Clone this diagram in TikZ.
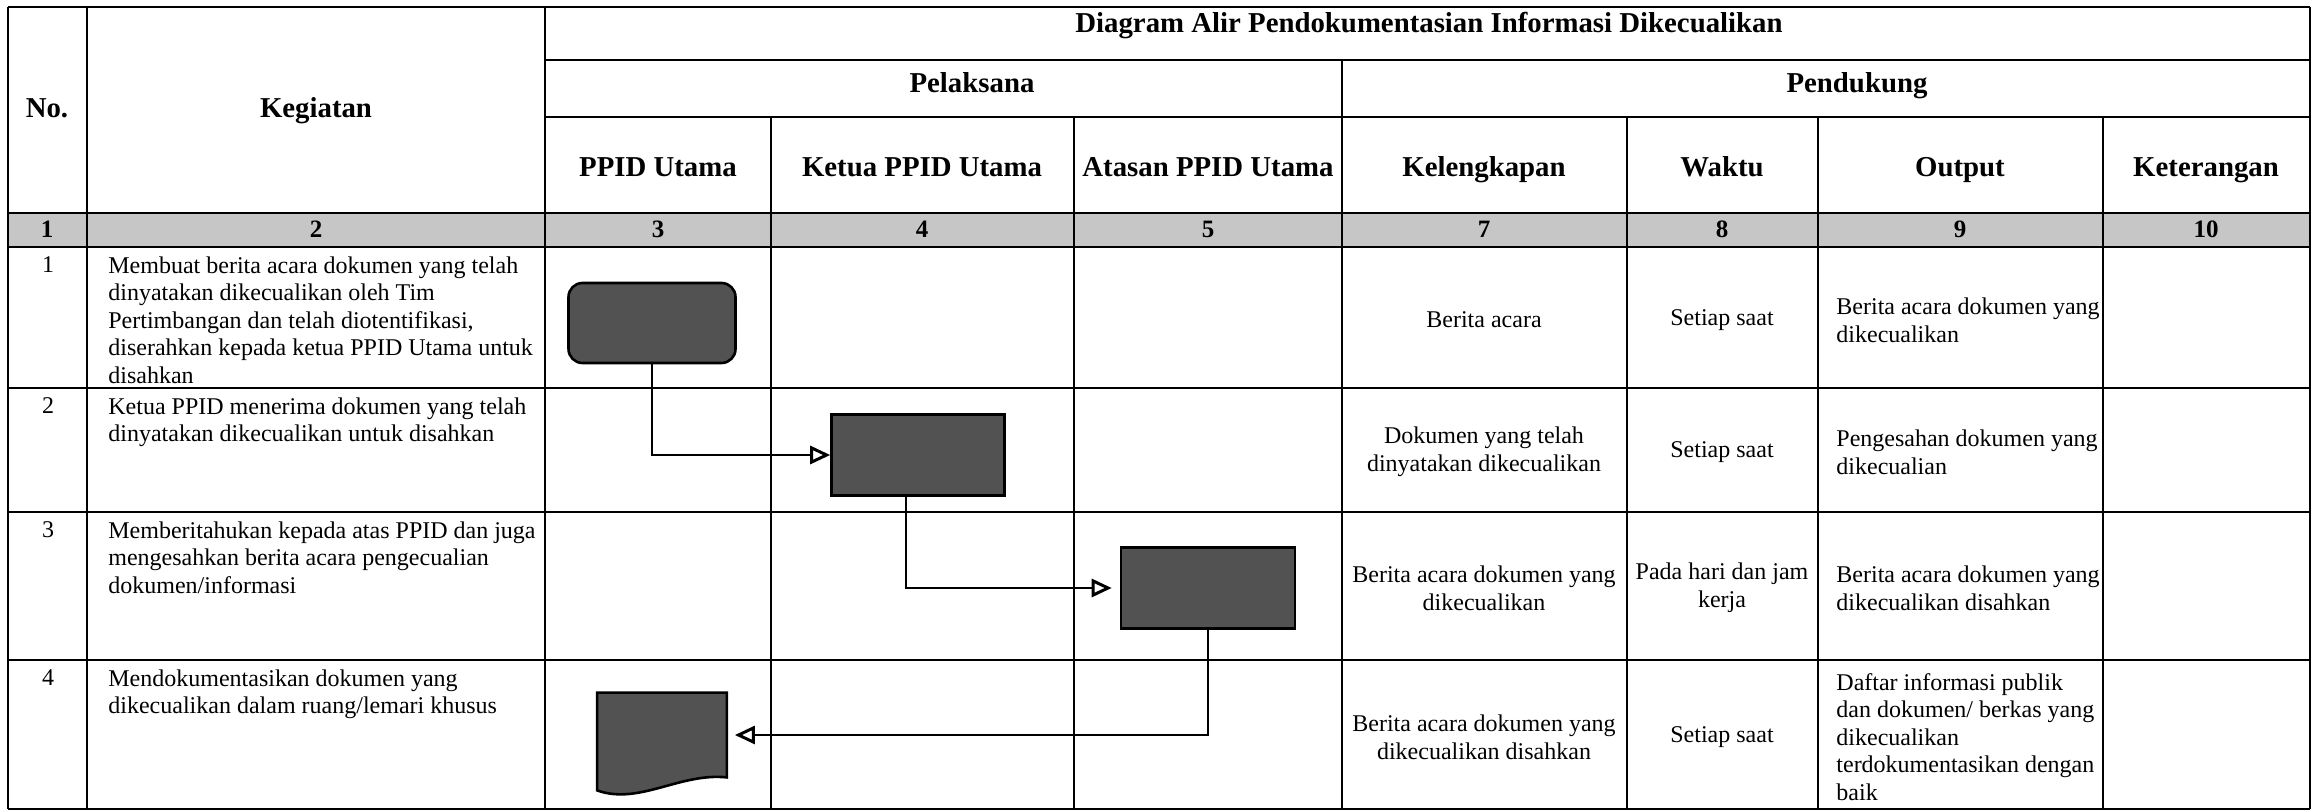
\documentclass[tikz,border=0pt]{standalone}
\usepackage{fontspec}
\setmainfont{Liberation Serif}
\usepackage{tikz}
\usetikzlibrary{arrows.meta}
\usetikzlibrary{calc}

\definecolor{shapegray}{HTML}{525252}
\definecolor{bandgray}{HTML}{C6C6C6}

\begin{document}
\begin{tikzpicture}[x=0.5pt,y=-0.5pt,
  hline/.style={line width=1.3pt},
  vline/.style={line width=0.7pt},
  hd/.style={font=\fontsize{14.4}{16}\selectfont\bfseries,inner sep=0pt,anchor=base},
  num/.style={font=\fontsize{12.5}{14}\selectfont\bfseries,inner sep=0pt,anchor=base},
  txt/.style={font=\fontsize{12}{13.8}\selectfont,inner sep=0pt},
  proc/.style={draw,line width=1.3pt,fill=shapegray,minimum height=40.5pt},
  flow/.style={line width=1.2pt,-{Triangle[open,length=10pt,width=9pt,line width=1.5pt]}}]
\useasboundingbox (0,0) rectangle (2317,812);
% band with column numbers
\fill[bandgray] (8,213) rectangle (2310,247);
% horizontal rules
\draw[hline] (8,7) -- (2310,7);
\draw[hline] (545,60) -- (2310,60);
\draw[hline] (545,117) -- (2310,117);
\draw[hline] (8,213) -- (2310,213);
\draw[hline] (8,247) -- (2310,247);
\draw[hline] (8,388) -- (2310,388);
\draw[hline] (8,512) -- (2310,512);
\draw[hline] (8,660) -- (2310,660);
\draw[hline] (8,809) -- (2310,809);
% vertical rules
\draw[vline] (8,7) -- (8,809);
\draw[vline] (87,7) -- (87,809);
\draw[vline] (545,7) -- (545,809);
\draw[vline] (771,117) -- (771,809);
\draw[vline] (1074,117) -- (1074,809);
\draw[vline] (1342,60) -- (1342,809);
\draw[vline] (1627,117) -- (1627,809);
\draw[vline] (1818,117) -- (1818,809);
\draw[vline] (2103,117) -- (2103,809);
\draw[vline] (2310,7) -- (2310,809);

% header
\node[hd] (no) at (47,118) {No.};
\node[hd] (keg) at (316,118) {Kegiatan};
\node[hd] (judul) at (1429,33) {Diagram Alir Pendokumentasian Informasi Dikecualikan};
\node[hd] (pel) at (972,93) {Pelaksana};
\node[hd] (pend) at (1857,93) {Pendukung};
\node[hd] (h3) at (658,177) {PPID Utama};
\node[hd] (h4) at (922,177) {Ketua PPID Utama};
\node[hd] (h5) at (1208,177) {Atasan PPID Utama};
\node[hd] (h7) at (1484,177) {Kelengkapan};
\node[hd] (h8) at (1722,177) {Waktu};
\node[hd] (h9) at (1960,177) {Output};
\node[hd] (h10) at (2206,177) {Keterangan};

\node[num] (c1) at (47,238) {1};
\node[num] (c2) at (316,238) {2};
\node[num] (c3) at (658,238) {3};
\node[num] (c4) at (922,238) {4};
\node[num] (c5) at (1208,238) {5};
\node[num] (c7) at (1484,238) {7};
\node[num] (c8) at (1722,238) {8};
\node[num] (c9) at (1960,238) {9};
\node[num] (c10) at (2206,238) {10};

% row 1
\node[txt,anchor=north] (n1) at (48,256) {1};
\node[txt,anchor=north west,align=left] (k1) at (108,256) {Membuat berita acara dokumen yang telah\\dinyatakan dikecualikan oleh Tim\\Pertimbangan dan telah diotentifikasi,\\diserahkan kepada ketua PPID Utama untuk\\disahkan};
\node[txt,align=center] (l1) at (1484,320) {Berita acara};
\node[txt,align=center] (w1) at (1722,320) {Setiap saat};
\node[txt,anchor=west,align=left] (o1) at (1836,320) {Berita acara dokumen yang\\dikecualikan};

% row 2
\node[txt,anchor=north] (n2) at (48,397) {2};
\node[txt,anchor=north west,align=left] (k2) at (108,397) {Ketua PPID menerima dokumen yang telah\\dinyatakan dikecualikan untuk disahkan};
\node[txt,align=center] (l2) at (1484,452) {Dokumen yang telah\\dinyatakan dikecualikan};
\node[txt,align=center] (w2) at (1722,452) {Setiap saat};
\node[txt,anchor=west,align=left] (o2) at (1836,452) {Pengesahan dokumen yang\\dikecualian};

% row 3
\node[txt,anchor=north] (n3) at (48,521) {3};
\node[txt,anchor=north west,align=left] (k3) at (108,521) {Memberitahukan kepada atas PPID dan juga\\mengesahkan berita acara pengecualian\\dokumen/informasi};
\node[txt,align=center] (l3) at (1484,588) {Berita acara dokumen yang\\dikecualikan};
\node[txt,align=center] (w3) at (1722,588) {Pada hari dan jam\\kerja};
\node[txt,anchor=west,align=left] (o3) at (1836,588) {Berita acara dokumen yang\\dikecualikan disahkan};

% row 4
\node[txt,anchor=north] (n4) at (48,669) {4};
\node[txt,anchor=north west,align=left] (k4) at (108,669) {Mendokumentasikan dokumen yang\\dikecualikan dalam ruang/lemari khusus};
\node[txt,align=center] (l4) at (1484,737) {Berita acara dokumen yang\\dikecualikan disahkan};
\node[txt,align=center] (w4) at (1722,737) {Setiap saat};
\node[txt,anchor=west,align=left] (o4) at (1836,737) {Daftar informasi publik\\dan dokumen/ berkas yang\\dikecualikan\\terdokumentasikan dengan\\baik};

% flow shapes
\node[proc,rounded corners=7pt,minimum width=83.5pt,minimum height=40pt] (a1) at (652,323) {};
\node[proc,minimum width=86.5pt] (a2) at (918,455) {};
\node[proc,minimum width=87pt] (a3) at (1208,588) {};
\node[minimum width=64.5pt,minimum height=42pt,inner sep=0pt] (d4) at (662,735) {};
\filldraw[fill=shapegray,line width=1.3pt] (d4.north west) -- (d4.north east) -- (d4.south east)
  .. controls ($(d4.south east)+(-47,-5)$) and ($(d4.south west)+(42,28)$) .. ($(d4.south west)+(0,13)$) -- cycle;

\draw[flow] (a1.south) |- (a2.west);
\draw[flow,shorten >=4pt] ([xshift=-6pt]a2.south) |- (a3.west);
\draw[flow,shorten >=4pt] (a3.south) |- (d4.east);
\end{tikzpicture}
\end{document}
